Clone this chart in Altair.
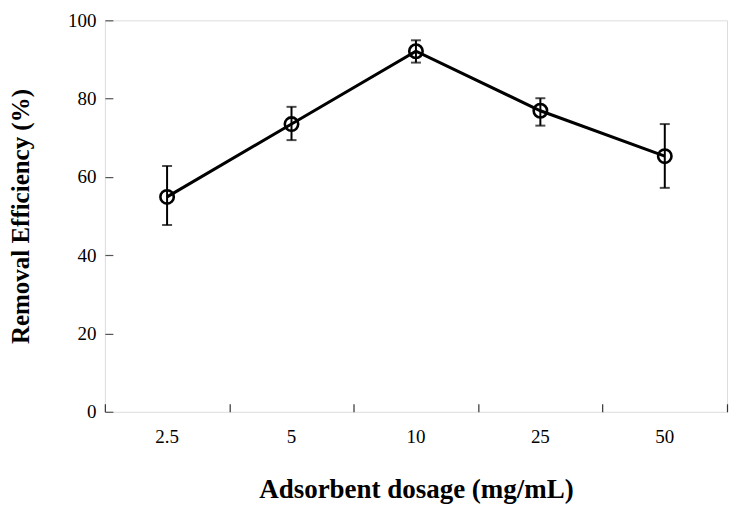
import altair as alt
import pandas as pd

doses = ["2.5", "5", "10", "25", "50"]
efficiency = [54.9, 73.5, 92.1, 76.9, 65.3]
err_low = [47.7, 69.4, 89.2, 73.1, 57.2]
err_high = [62.8, 77.9, 94.9, 80.1, 73.5]
y_ticks = [0, 20, 40, 60, 80, 100]

df = pd.DataFrame({"dose": doses, "eff": efficiency, "lo": err_low, "hi": err_high})

FONT = "Liberation Serif"
xscale = alt.Scale(type="band", domain=doses, paddingInner=0, paddingOuter=0)
yscale = alt.Scale(domain=[0, 100], nice=False)

base = alt.Chart(df)

line = base.mark_line(color="black", strokeWidth=3).encode(
    x=alt.X("dose:N", scale=xscale, sort=doses,
            axis=alt.Axis(title="Adsorbent dosage (mg/mL)", orient="bottom", ticks=False,
                          tickSize=0, labelPadding=16, labelAngle=0, domain=False,
                          labelFont=FONT, labelFontSize=19, labelColor="black",
                          titleFont=FONT, titleFontSize=27, titleFontWeight="bold",
                          titleColor="black", titlePadding=30)),
    y=alt.Y("eff:Q", scale=yscale,
            axis=alt.Axis(title="Removal Efficiency (%)", orient="left", values=y_ticks,
                          ticks=False, tickSize=0, labelPadding=9, domain=False, grid=False,
                          labelFont=FONT, labelFontSize=19, labelColor="black",
                          titleFont=FONT, titleFontSize=25, titleFontWeight="bold",
                          titleColor="black", titlePadding=34)),
)

errs = base.mark_errorbar(color="black", thickness=2, ticks={"size": 10}).encode(
    x=alt.X("dose:N", scale=xscale, sort=doses, axis=None),
    y=alt.Y("lo:Q", scale=yscale, axis=None, title=None),
    y2="hi:Q",
)

pts = base.mark_point(shape="circle", filled=False, color="black", size=180,
                      strokeWidth=2.6, opacity=1).encode(
    x=alt.X("dose:N", scale=xscale, sort=doses,
            axis=alt.Axis(orient="top", offset=-392, labels=False, title=None, domain=False,
                          ticks=True, tickBand="extent", tickSize=8, tickColor="#333",
                          tickWidth=1.2)),
    y=alt.Y("eff:Q", scale=yscale,
            axis=alt.Axis(orient="right", offset=-623, labels=False, title=None, domain=False,
                          values=y_ticks, ticks=True, tickSize=8, tickColor="#555",
                          tickWidth=1.2, grid=False)),
)

chart = alt.layer(line, errs, pts).resolve_axis(x="independent", y="independent").properties(
    width=623, height=392,
    autosize=alt.AutoSizeParams(type="none"),
    padding={"left": 97, "top": 12, "right": 2, "bottom": 98},
).configure_view(stroke="#666", strokeWidth=1.3).configure(background="white")

chart.save("out.html", embed_options={"renderer": "svg", "actions": False})
